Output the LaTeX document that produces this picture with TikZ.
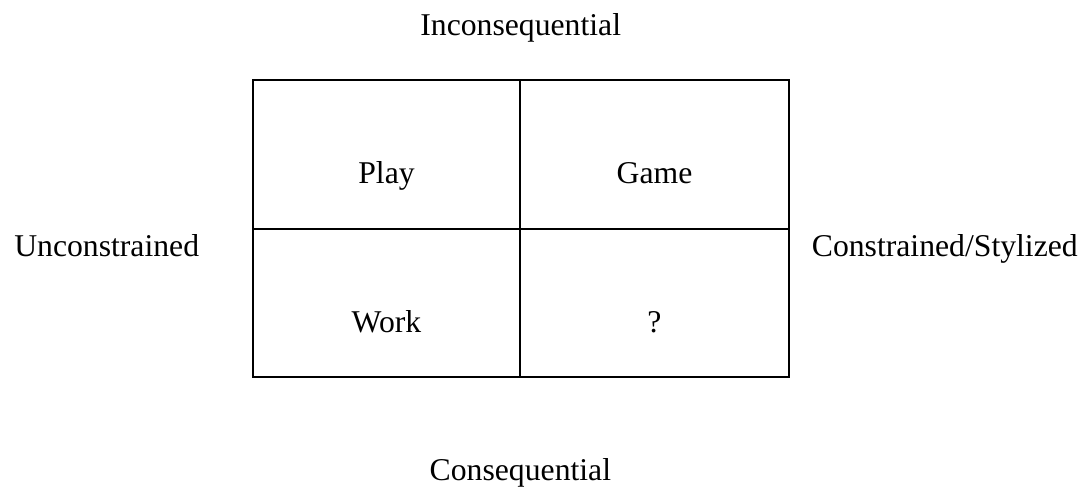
\documentclass[tikz,border=0pt]{standalone}
\usepackage{fontspec}
\setmainfont{Liberation Serif}
\begin{document}
\begin{tikzpicture}[x=1pt,y=-1pt,
  lbl/.style={anchor=base,inner sep=0pt,font=\fontsize{31.7}{38}\selectfont},
  gridline/.style={line width=2.6pt,line cap=rect}]
  % page frame
  \useasboundingbox (0,0) rectangle (1086,487);
  % grid corners
  \coordinate (tl) at (253,80);
  \coordinate (br) at (789,377);
  \coordinate (tm) at (520,80);
  \coordinate (bm) at (520,377);
  \coordinate (ml) at (253,229);
  \coordinate (mr) at (789,229);
  \draw[gridline] (tl) rectangle (br);
  \draw[gridline] (tm) -- (bm);
  \draw[gridline] (ml) -- (mr);
  % quadrant labels
  \node[lbl] (play) at (386.5,183) {Play};
  \node[lbl] (game) at (654.5,183) {Game};
  \node[lbl] (work) at (386.5,332.3) {Work};
  \node[lbl] (unk)  at (654.5,332.3) {?};
  % axis labels
  \node[lbl] (top)    at (520.7,35.7)  {Inconsequential};
  \node[lbl] (bottom) at (520.4,480.7) {Consequential};
  \node[lbl] (left)   at (106.7,256.7) {Unconstrained};
  \node[lbl] (right)  at (944.8,256.7) {Constrained/Stylized};
\end{tikzpicture}
\end{document}
